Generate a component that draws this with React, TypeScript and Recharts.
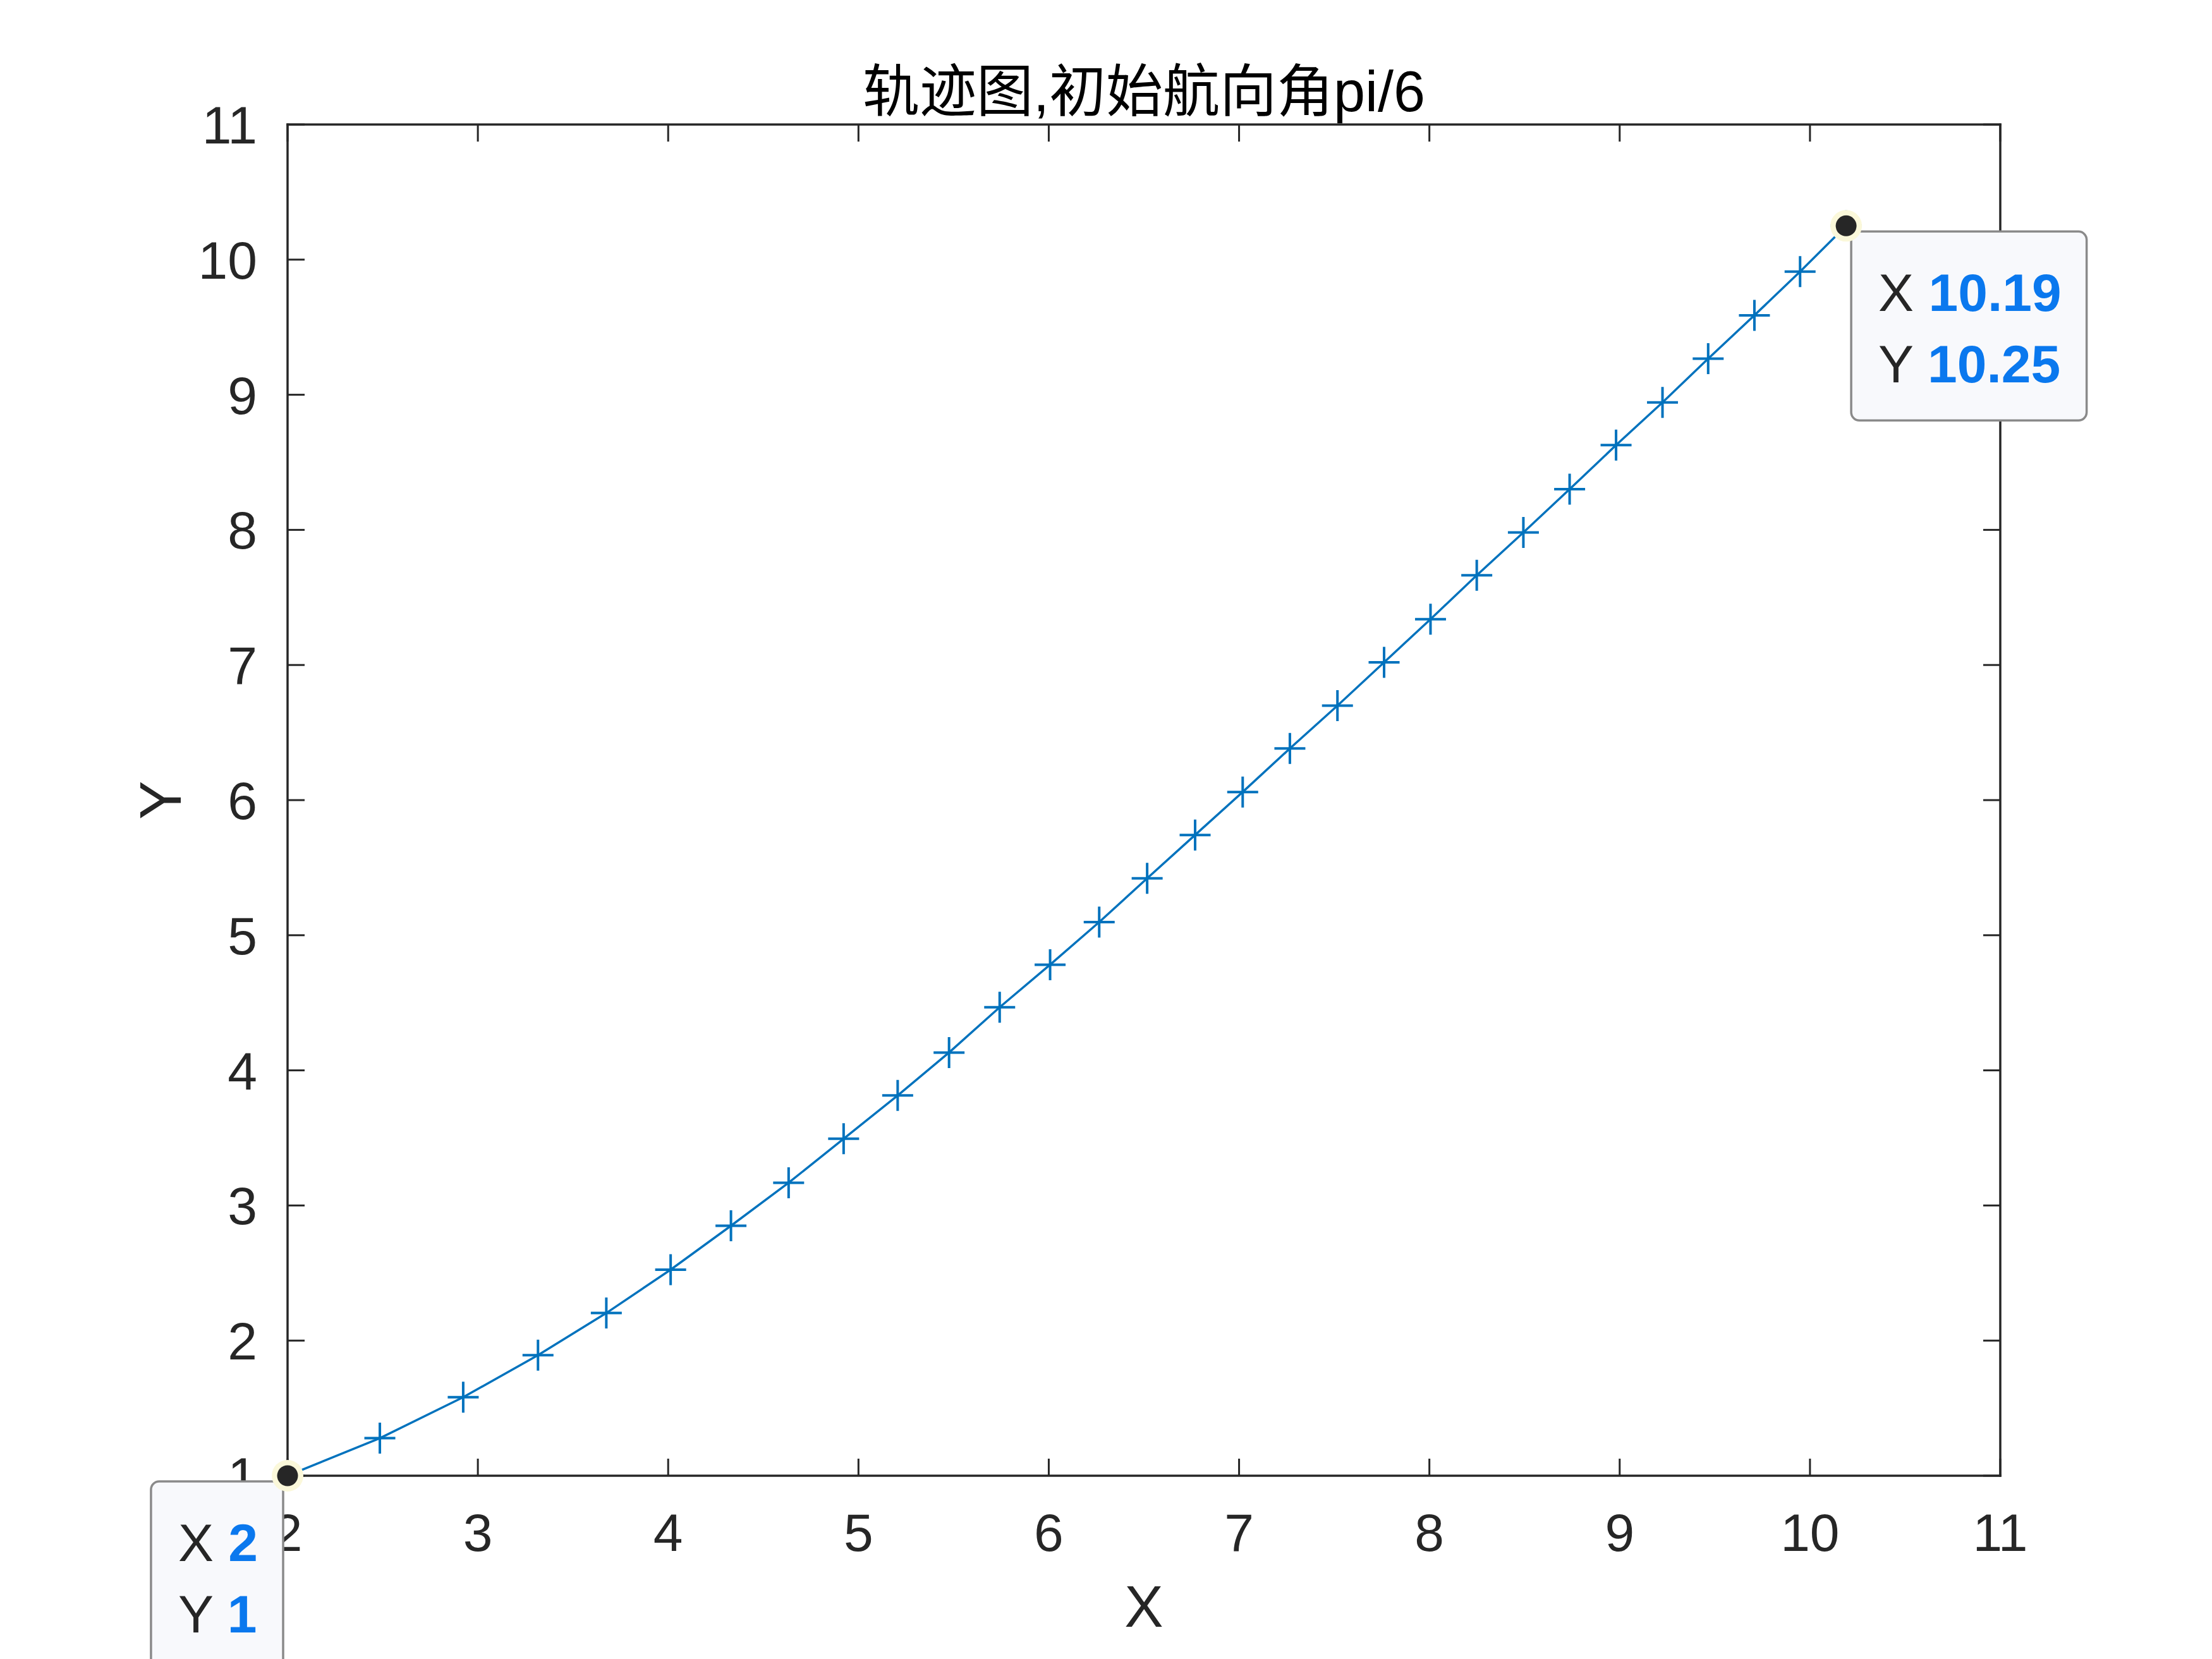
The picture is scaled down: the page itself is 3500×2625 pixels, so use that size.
import React from "react";
import {
  LineChart,
  Line,
  XAxis,
  YAxis,
  ReferenceDot,
} from "recharts";

// trajectory samples
const trackX = [
  2, 2.485, 2.923, 3.316, 3.675, 4.013, 4.33, 4.633, 4.922, 5.206, 5.476,
  5.742, 6.007, 6.265, 6.517, 6.769, 7.019, 7.267, 7.517, 7.762, 8.006,
  8.249, 8.494, 8.737, 8.981, 9.225, 9.465, 9.708, 9.948, 10.19,
];
const trackY = [
  1, 1.278, 1.581, 1.892, 2.204, 2.525, 2.85, 3.168, 3.494, 3.814, 4.132,
  4.467, 4.782, 5.097, 5.421, 5.742, 6.06, 6.382, 6.699, 7.02, 7.339, 7.664,
  7.981, 8.301, 8.627, 8.943, 9.267, 9.588, 9.911, 10.25,
];

const xTicks = [2, 3, 4, 5, 6, 7, 8, 9, 10, 11];
const yTicks = [1, 2, 3, 4, 5, 6, 7, 8, 9, 10, 11];

// data tips: which sample, and which side of the point the box sits on
const tipIndex = [trackX.length - 1, 0];
const tipSide = ["right", "left"];

const data = trackX.map((x, i) => ({ x, y: trackY[i] }));

const W = 3500;
const H = 2625;
const PLOT = { left: 455, top: 197, right: 3165, bottom: 2335 };

const AX = "#262626";
const LINE = "#0072BD";
const TIPBLUE = "#0A78EE";
const FONT = "'Liberation Sans', Arial, Helvetica, sans-serif";
const TICK_FS = 84;
const TICK_LEN = 27;

function BottomTick({ x, y, payload }: any) {
  return (
    <g>
      <line x1={x} y1={y} x2={x} y2={y - TICK_LEN} stroke={AX} strokeWidth={3} />
      <text
        x={x}
        y={y + 119}
        textAnchor="middle"
        fontFamily={FONT}
        fontSize={TICK_FS}
        fill={AX}
      >
        {payload.value}
      </text>
    </g>
  );
}

function TopTick({ x, y }: any) {
  return <line x1={x} y1={y} x2={x} y2={y + TICK_LEN} stroke={AX} strokeWidth={3} />;
}

function LeftTick({ x, y, payload }: any) {
  return (
    <g>
      <line x1={x} y1={y} x2={x + TICK_LEN} y2={y} stroke={AX} strokeWidth={3} />
      <text
        x={x - 48}
        y={y + 30}
        textAnchor="end"
        fontFamily={FONT}
        fontSize={TICK_FS}
        fill={AX}
      >
        {payload.value}
      </text>
    </g>
  );
}

function RightTick({ x, y }: any) {
  return <line x1={x} y1={y} x2={x - TICK_LEN} y2={y} stroke={AX} strokeWidth={3} />;
}

function PlusMarker(props: any) {
  const { cx, cy } = props;
  if (cx == null || cy == null) return null;
  const h = 24.5;
  return (
    <path
      d={`M${cx - h},${cy}H${cx + h}M${cx},${cy - h}V${cy + h}`}
      stroke={LINE}
      strokeWidth={4}
      fill="none"
    />
  );
}

// rough Arial advance widths, only used to size the data tip boxes
function textWidth(s: string, fs: number) {
  let w = 0;
  for (const c of s) {
    if (c === "." || c === " ") w += 0.278;
    else if (c === "X" || c === "Y") w += 0.667;
    else w += 0.556;
  }
  return w * fs;
}

function fmt(v: number) {
  return String(Math.round(v * 100) / 100);
}

function DataTip({ cx, cy, xv, yv, side }: any) {
  const fs = 84;
  const lines = [
    ["X", fmt(xv)],
    ["Y", fmt(yv)],
  ];
  const labelW = textWidth("X ", fs);
  const valW = Math.max(...lines.map((l) => textWidth(l[1], fs)));
  const boxW = 43 + labelW + valW + 40;
  const boxH = 299;
  const bx = side === "right" ? cx + 8 : cx - 7 - boxW;
  const by = cy + 9;
  return (
    <g>
      <rect
        x={bx}
        y={by}
        width={boxW}
        height={boxH}
        rx={13}
        fill="#F8F9FC"
        stroke="#8A8A8A"
        strokeWidth={3.5}
      />
      {lines.map((l, i) => (
        <text
          key={l[0]}
          x={bx + 43}
          y={by + 126 + i * 113}
          fontFamily={FONT}
          fontSize={fs}
          fill={AX}
        >
          {l[0] + " "}
          <tspan fill={TIPBLUE} fontWeight="bold">
            {l[1]}
          </tspan>
        </text>
      ))}
      <circle cx={cx} cy={cy} r={25} fill="#FBF8DA" />
      <circle cx={cx} cy={cy} r={16.5} fill={AX} />
    </g>
  );
}

export default function App() {
  return (
    <div style={{ position: "absolute", left: 0, top: 0, width: W, height: H, background: "#fff" }}>
      <LineChart
        width={W}
        height={H}
        data={data}
        margin={{
          top: PLOT.top - 1,
          left: PLOT.left - 1,
          right: W - PLOT.right - 1,
          bottom: H - PLOT.bottom - 1,
        }}
      >
        <XAxis
          xAxisId="b"
          dataKey="x"
          type="number"
          domain={[2, 11]}
          ticks={xTicks}
          interval={0}
          allowDataOverflow
          height={1}
          tickSize={0}
          tickMargin={0}
          tickLine={false}
          tick={<BottomTick />}
          axisLine={{ stroke: AX, strokeWidth: 3.5, strokeLinecap: "square" }}
        />
        <XAxis
          xAxisId="t"
          orientation="top"
          dataKey="x"
          type="number"
          domain={[2, 11]}
          ticks={xTicks}
          interval={0}
          allowDataOverflow
          height={1}
          tickSize={0}
          tickMargin={0}
          tickLine={false}
          tick={<TopTick />}
          axisLine={{ stroke: AX, strokeWidth: 3.5, strokeLinecap: "square" }}
        />
        <YAxis
          yAxisId="l"
          type="number"
          domain={[1, 11]}
          ticks={yTicks}
          interval={0}
          allowDataOverflow
          width={1}
          tickSize={0}
          tickMargin={0}
          tickLine={false}
          tick={<LeftTick />}
          axisLine={{ stroke: AX, strokeWidth: 3.5, strokeLinecap: "square" }}
        />
        <YAxis
          yAxisId="r"
          orientation="right"
          type="number"
          domain={[1, 11]}
          ticks={yTicks}
          interval={0}
          allowDataOverflow
          width={1}
          tickSize={0}
          tickMargin={0}
          tickLine={false}
          tick={<RightTick />}
          axisLine={{ stroke: AX, strokeWidth: 3.5, strokeLinecap: "square" }}
        />
        <Line
          xAxisId="b"
          yAxisId="l"
          type="linear"
          dataKey="y"
          stroke={LINE}
          strokeWidth={3.5}
          dot={<PlusMarker />}
          activeDot={false}
          isAnimationActive={false}
        />
        {tipIndex.map((idx, i) => (
          <ReferenceDot
            key={idx}
            xAxisId="b"
            yAxisId="l"
            x={trackX[idx]}
            y={trackY[idx]}
            r={16}
            zIndex={2500}
            shape={(p: any) => (
              <DataTip cx={p.cx} cy={p.cy} xv={trackX[idx]} yv={trackY[idx]} side={tipSide[i]} />
            )}
          />
        ))}
        <text
          x={(PLOT.left + PLOT.right) / 2}
          y={176}
          textAnchor="middle"
          fontFamily="'Liberation Sans', 'Noto Sans CJK SC', sans-serif"
          fontSize={90}
          fill="#000"
        >
          轨迹图,初始航向角pi/6
        </text>
        <text
          x={(PLOT.left + PLOT.right) / 2}
          y={2574}
          textAnchor="middle"
          fontFamily={FONT}
          fontSize={92}
          fill={AX}
        >
          X
        </text>
        <text
          x={286}
          y={(PLOT.top + PLOT.bottom) / 2}
          transform={`rotate(-90 286 ${(PLOT.top + PLOT.bottom) / 2})`}
          textAnchor="middle"
          fontFamily={FONT}
          fontSize={92}
          fill={AX}
        >
          Y
        </text>
      </LineChart>
    </div>
  );
}
